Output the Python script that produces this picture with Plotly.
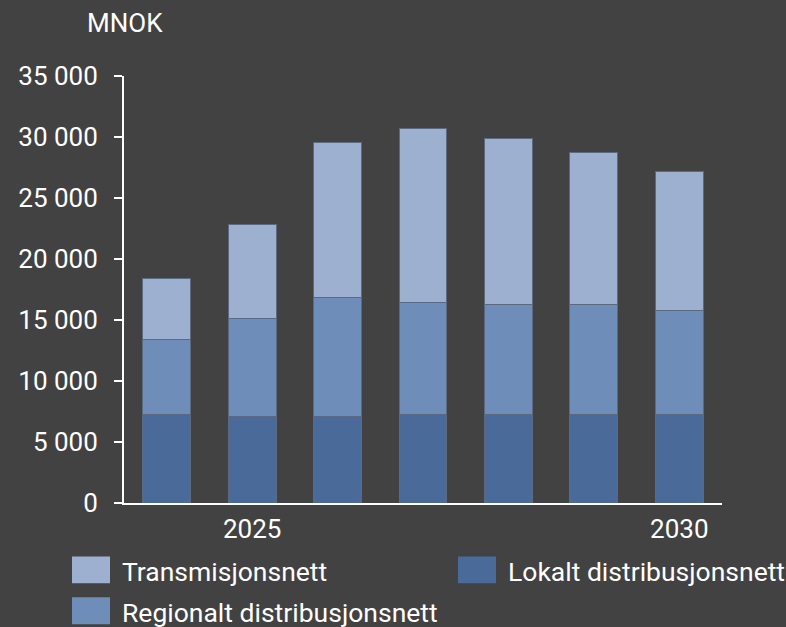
import plotly.graph_objects as go

years = [2024, 2025, 2026, 2027, 2028, 2029, 2030]
lokalt = [7220, 7060, 7060, 7220, 7280, 7280, 7220]
regionalt = [6180, 8080, 9770, 9200, 9010, 8980, 8550]
transmisjon = [4980, 7680, 12720, 14310, 13600, 12430, 11400]

series_names = ["Lokalt distribusjonsnett", "Regionalt distribusjonsnett", "Transmisjonsnett"]
series_colors = ["#4a6a99", "#6e8db9", "#9db0cf"]
series_values = [lokalt, regionalt, transmisjon]

x_tickvals = [2025, 2030]
y_tickvals = [0, 5000, 10000, 15000, 20000, 25000, 30000, 35000]

BG = "#424242"
FONT = "Roboto"
W, H = 786, 627
L, R, T, B = 124, 64, 75.5, 123.5
PW, PH = W - L - R, H - T - B


def px(xp):
    return (xp - L) / PW


def py(yp):
    return (H - B - yp) / PH


fig = go.Figure()
for name, col, vals in zip(series_names, series_colors, series_values):
    fig.add_trace(go.Bar(
        x=years, y=vals, name=name, width=0.56,
        marker=dict(color=col, line=dict(color="#5b6a80", width=1)),
        showlegend=False,
    ))

# custom legend (swatches + real text)
legend_items = [
    (2, 72, 557),   # Transmisjonsnett
    (0, 458, 557),  # Lokalt
    (1, 72, 598),   # Regionalt
]
shapes = []
annotations = []
for idx, x0, y0 in legend_items:
    shapes.append(dict(type="rect", xref="paper", yref="paper",
                       x0=px(x0), x1=px(x0 + 38), y0=py(y0), y1=py(y0 + 27),
                       fillcolor=series_colors[idx], line=dict(width=0)))
    annotations.append(dict(text=series_names[idx], xref="paper", yref="paper",
                            x=px(x0 + 48), y=py(y0 + 15), xanchor="left", yanchor="middle",
                            showarrow=False, font=dict(family=FONT, size=26.5, color="white")))

annotations.append(dict(text="MNOK", xref="paper", yref="paper", x=px(125), y=py(22),
                        xanchor="center", yanchor="middle", showarrow=False,
                        font=dict(family=FONT, size=26, color="white")))

fig.update_layout(
    barmode="stack",
    width=W, height=H, autosize=False,
    margin=dict(l=L, r=R, t=T, b=B, pad=0),
    paper_bgcolor=BG, plot_bgcolor=BG,
    font=dict(family=FONT, size=26, color="white"),
    separators=", ",
    shapes=shapes,
    annotations=annotations,
    xaxis=dict(range=[2023.5, 2030.5], tickvals=x_tickvals, showgrid=False, zeroline=False,
               showline=True, linecolor="white", linewidth=2, ticks="",
               ticklabelstandoff=2, tickfont=dict(size=26, color="white")),
    yaxis=dict(range=[0, 35000], tickvals=y_tickvals, tickformat=",d", showgrid=False, zeroline=False,
               showline=True, linecolor="white", linewidth=2, ticks="outside", ticklen=8,
               tickwidth=2, tickcolor="white", ticklabelstandoff=11,
               tickfont=dict(size=26, color="white")),
)

fig.write_html("out.html", config={"displayModeBar": False},
               post_script="document.body.style.margin='0';document.body.style.padding='0';document.body.style.overflow='hidden';")
